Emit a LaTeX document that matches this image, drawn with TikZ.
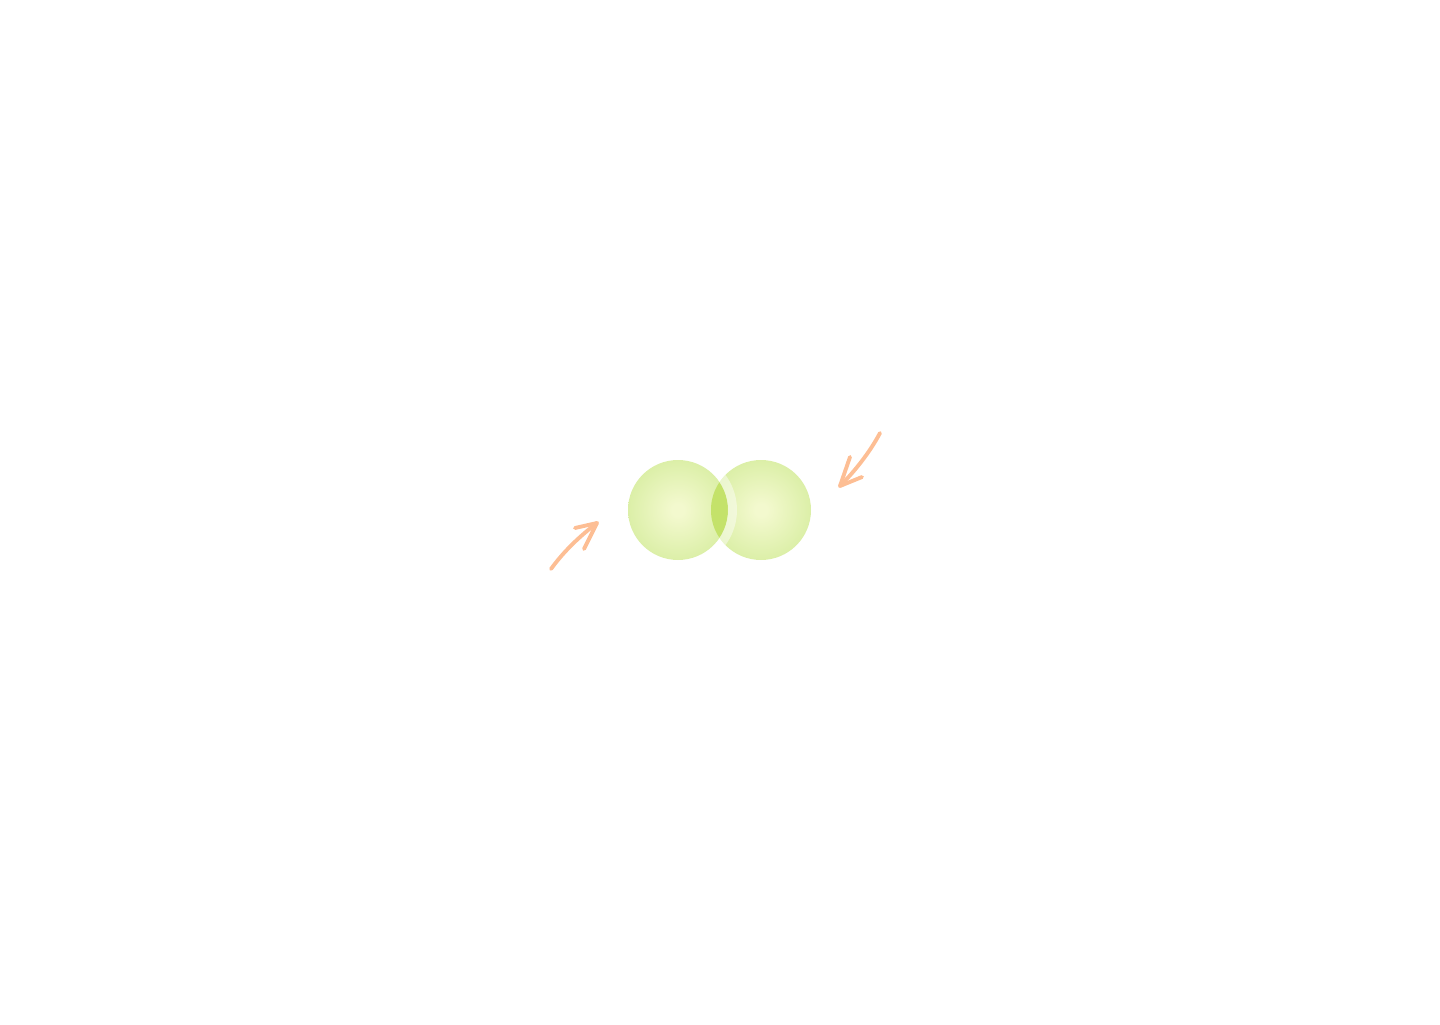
\documentclass[tikz,border=0pt]{standalone}
\definecolor{grapein}{HTML}{F3F9CE}
\definecolor{grapeout}{HTML}{D2EB98}
\definecolor{grapelens}{HTML}{C4E26A}
\definecolor{pushcol}{HTML}{FDBE94}
\pgfdeclareradialshading{grape}{\pgfpoint{0bp}{0bp}}{color(0bp)=(grapein); color(3bp)=(grapein); color(34bp)=(grapeout); color(50bp)=(grapeout)}
\tikzset{
  push/.style={draw=pushcol, line width=1.1pt, line cap=round, line join=round},
}
\begin{document}
\begin{tikzpicture}[x=1cm,y=1cm]
\useasboundingbox (0,0) rectangle (14.4,10.24);

\coordinate (left) at (6.78,5.14);
\coordinate (right) at (7.61,5.14);

\shade[shading=grape] (left) circle (0.5);
\shade[shading=grape] (right) circle (0.5);

% overlap
\begin{scope}
\clip (left) circle (0.5);
\fill[grapelens] (right) circle (0.5);
\end{scope}
\begin{scope}
\clip (right) circle (0.5);
\draw[white, opacity=0.45, line width=0.09cm] (left) circle (0.545);
\end{scope}

% pushing arrows
\coordinate (p1) at (5.51,4.55);
\coordinate (t1) at (5.97,5.01);
\draw[push] (p1) .. controls (5.64,4.73) and (5.80,4.88) .. (t1);
\draw[push] (5.75,4.96) -- (t1) -- (5.84,4.75);

\coordinate (p2) at (8.80,5.91);
\coordinate (t2) at (8.40,5.38);
\draw[push] (p2) .. controls (8.70,5.72) and (8.55,5.53) .. (t2);
\draw[push] (8.50,5.67) -- (t2) -- (8.62,5.47);
\end{tikzpicture}
\end{document}
